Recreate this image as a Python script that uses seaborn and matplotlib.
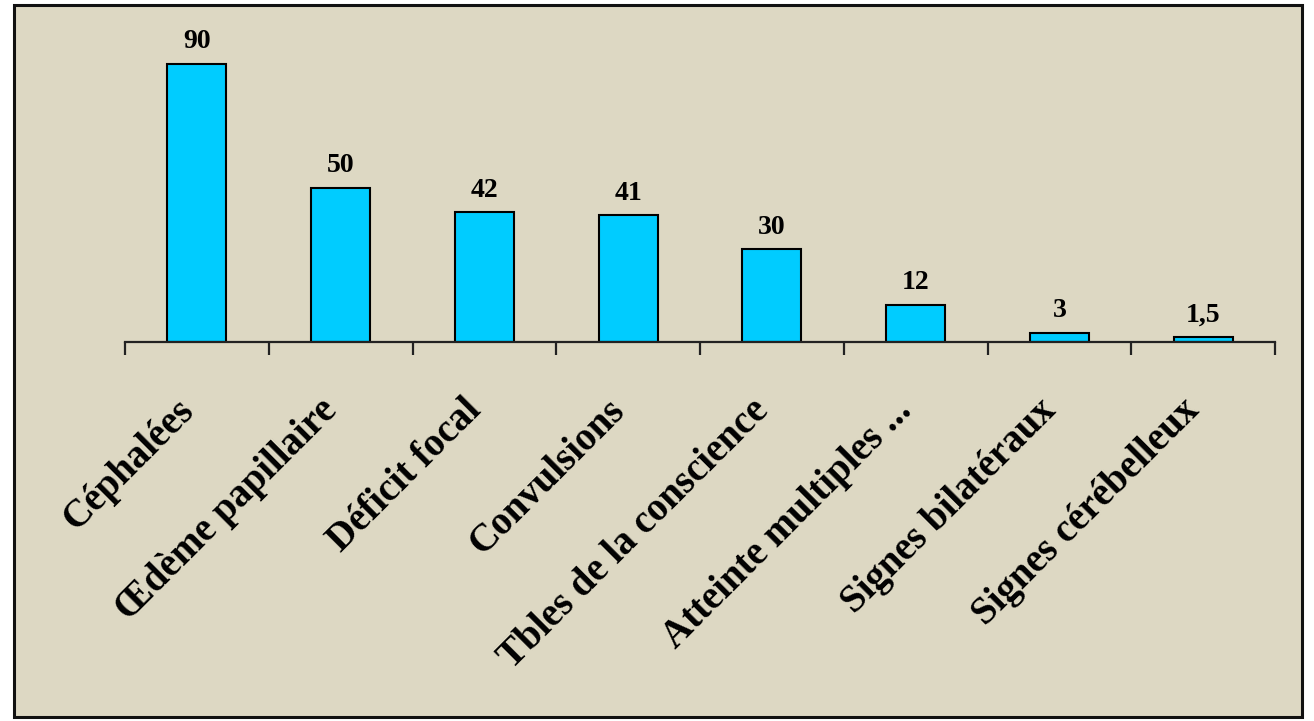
import matplotlib
matplotlib.use("Agg")
import matplotlib.pyplot as plt
import matplotlib.transforms as mtransforms
from matplotlib.patches import Rectangle
import seaborn as sns
import pandas as pd
import numpy as np

categories = ["Céphalées", "Œdème papillaire", "Déficit focal", "Convulsions",
              "Tbles de la conscience", "Atteinte multiples ...", "Signes bilatéraux",
              "Signes cérébelleux"]
values = [90, 50, 42, 41, 30, 12, 3, 1.5]
value_labels = ["90", "50", "42", "41", "30", "12", "3", "1,5"]

df = pd.DataFrame({"cat": categories, "val": values})

sns.set_theme(style="white")
plt.rcParams['font.family'] = ['Liberation Serif', 'DejaVu Serif']
plt.rcParams['text.color'] = 'black'

W, H = 1314, 721
bg = "#DDD8C3"
fig = plt.figure(figsize=(W / 100, H / 100), dpi=100)
fig.patch.set_facecolor("white")
fig.patches.append(Rectangle((14 / W, 1 - 717 / H), (1302 - 14) / W, (717 - 5) / H,
                             transform=fig.transFigure, facecolor=bg, edgecolor="#111111",
                             linewidth=2.2, zorder=-5))

ax = fig.add_axes([125 / W, 1 - 342 / H, (1275 - 125) / W, (342 - 30) / H])
ax.set_facecolor("none")
ax.set_zorder(2)
sns.barplot(data=df, x="cat", y="val", color="#00CCFF", saturation=1, width=0.41,
            edgecolor="black", linewidth=1.5, ax=ax)
ax.set_xlim(-0.5, len(categories) - 0.5)
ax.set_ylim(0, 90 * (342 - 30) / (342 - 64))

for i, (v, lab) in enumerate(zip(values, value_labels)):
    ax.annotate(lab, (i, v), xytext=(0, 7), textcoords="offset points", ha="center",
                va="bottom", fontsize=20, fontweight="bold", color="black")

for s in ["top", "left", "right"]:
    ax.spines[s].set_visible(False)
ax.spines["bottom"].set_color("#222222")
ax.spines["bottom"].set_linewidth(1.6)
ax.set_yticks([])
ax.set_xlabel("")
ax.set_ylabel("")
ax.set_xticks(np.arange(-0.5, len(categories), 1.0), minor=True)
ax.tick_params(axis="x", which="minor", direction="out", length=9, width=1.6,
               color="#222222", bottom=True)
ax.tick_params(axis="x", which="major", length=0, pad=36, labelcolor="black")
ax.set_xticks(range(len(categories)))
ax.set_xticklabels(categories, rotation=45, ha="right", rotation_mode="anchor",
                   fontsize=28, fontweight="bold", color="black")
offset = mtransforms.ScaledTranslation(-22 / 100, 0, fig.dpi_scale_trans)
for t in ax.get_xticklabels():
    t.set_transform(t.get_transform() + offset)

fig.savefig("out.png", dpi=100, facecolor=fig.get_facecolor())
